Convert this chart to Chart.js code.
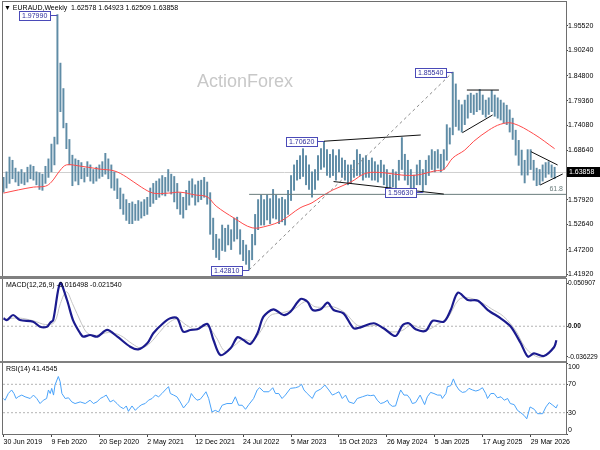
<!DOCTYPE html>
<html>
<head>
<meta charset="utf-8">
<script src="https://cdn.jsdelivr.net/npm/chart.js@4.4.1/dist/chart.umd.min.js"></script>
<style>
  html, body { margin: 0; padding: 0; background: #fff; }
  #wrap { position: relative; width: 600px; height: 450px; }
  #wrap canvas { position: absolute; left: 0; top: 0; }
</style>
</head>
<body>
<div id="wrap">
  <canvas id="rsi" width="600" height="450"></canvas>
  <canvas id="macd" width="600" height="450"></canvas>
  <canvas id="main" width="600" height="450"></canvas>
</div>
<script>
// date labels under the chart, one every 16 two-week bars
const tickLabels = ['30 Jun 2019', '9 Feb 2020', '20 Sep 2020', '2 May 2021', '12 Dec 2021', '24 Jul 2022',
  '5 Mar 2023', '15 Oct 2023', '26 May 2024', '5 Jan 2025', '17 Aug 2025', '29 Mar 2026'];
const tickStep = 16;

// EURAUD, two-week high / low
const priceHigh = [
  1.628, 1.640, 1.672, 1.665, 1.648, 1.640, 1.645, 1.638, 1.650, 1.655,
  1.652, 1.640, 1.638, 1.635, 1.652, 1.668, 1.700, 1.715, 1.9799, 1.875,
  1.820, 1.745, 1.710, 1.676, 1.668, 1.665, 1.660, 1.648, 1.662, 1.655,
  1.645, 1.650, 1.655, 1.662, 1.680, 1.668, 1.655, 1.640, 1.625, 1.605,
  1.592, 1.580, 1.572, 1.575, 1.570, 1.578, 1.575, 1.580, 1.585, 1.605,
  1.615, 1.620, 1.625, 1.632, 1.628, 1.645, 1.635, 1.630, 1.615, 1.595,
  1.585, 1.600, 1.620, 1.625, 1.612, 1.620, 1.622, 1.628, 1.618, 1.595,
  1.540, 1.505, 1.495, 1.525, 1.518, 1.525, 1.515, 1.540, 1.542, 1.515,
  1.492, 1.482, 1.470, 1.505, 1.548, 1.580, 1.590, 1.580, 1.590, 1.582,
  1.602, 1.590, 1.582, 1.585, 1.580, 1.600, 1.632, 1.655, 1.665, 1.675,
  1.690, 1.675, 1.655, 1.640, 1.645, 1.675, 1.690, 1.7062, 1.688, 1.678,
  1.688, 1.675, 1.688, 1.670, 1.665, 1.655, 1.655, 1.665, 1.688, 1.678,
  1.670, 1.675, 1.665, 1.670, 1.662, 1.655, 1.665, 1.655, 1.645, 1.633,
  1.645, 1.640, 1.665, 1.714, 1.678, 1.665, 1.645, 1.633, 1.655, 1.665,
  1.645, 1.665, 1.675, 1.688, 1.684, 1.688, 1.678, 1.688, 1.742, 1.735,
  1.8554, 1.830, 1.795, 1.785, 1.795, 1.806, 1.810, 1.806, 1.810, 1.818,
  1.806, 1.795, 1.800, 1.816, 1.806, 1.800, 1.795, 1.789, 1.784, 1.774,
  1.756, 1.730, 1.708, 1.687, 1.665, 1.688, 1.688, 1.665, 1.648, 1.645,
  1.655, 1.660, 1.662, 1.655, 1.650
];
const priceLow = [
  1.596, 1.605, 1.615, 1.625, 1.618, 1.610, 1.615, 1.612, 1.618, 1.625,
  1.622, 1.612, 1.602, 1.600, 1.615, 1.628, 1.640, 1.655, 1.700, 1.770,
  1.735, 1.690, 1.655, 1.610, 1.620, 1.612, 1.625, 1.618, 1.630, 1.620,
  1.615, 1.620, 1.626, 1.630, 1.635, 1.625, 1.605, 1.600, 1.582, 1.560,
  1.548, 1.535, 1.528, 1.528, 1.535, 1.535, 1.540, 1.545, 1.548, 1.565,
  1.572, 1.580, 1.585, 1.590, 1.588, 1.598, 1.592, 1.575, 1.560, 1.548,
  1.540, 1.558, 1.568, 1.585, 1.568, 1.575, 1.580, 1.585, 1.570, 1.505,
  1.472, 1.455, 1.450, 1.470, 1.468, 1.482, 1.472, 1.490, 1.495, 1.462,
  1.448, 1.440, 1.4281, 1.450, 1.482, 1.515, 1.525, 1.525, 1.536, 1.528,
  1.540, 1.538, 1.528, 1.532, 1.525, 1.548, 1.578, 1.600, 1.622, 1.625,
  1.630, 1.612, 1.602, 1.585, 1.602, 1.622, 1.645, 1.650, 1.632, 1.628,
  1.632, 1.622, 1.640, 1.628, 1.622, 1.612, 1.615, 1.628, 1.632, 1.632,
  1.622, 1.628, 1.628, 1.622, 1.622, 1.618, 1.628, 1.612, 1.605, 1.600,
  1.608, 1.605, 1.622, 1.645, 1.622, 1.612, 1.605, 1.597, 1.612, 1.612,
  1.5963, 1.612, 1.632, 1.645, 1.640, 1.648, 1.640, 1.645, 1.665, 1.700,
  1.720, 1.738, 1.730, 1.726, 1.742, 1.756, 1.768, 1.764, 1.770, 1.774,
  1.764, 1.758, 1.764, 1.770, 1.760, 1.756, 1.752, 1.745, 1.742, 1.726,
  1.710, 1.676, 1.654, 1.633, 1.616, 1.633, 1.645, 1.622, 1.610, 1.612,
  1.620, 1.628, 1.635, 1.628, 1.625
];
const lastClose = 1.63858;
const priceTicks = [1.95520, 1.90240, 1.84800, 1.79360, 1.74080, 1.68640, 1.57920, 1.52640, 1.47200, 1.41920];

// red moving average, read at a few bars
const maIndex = [0, 5, 10, 14, 16, 19, 21, 25, 32, 37, 41, 46, 50, 55, 59, 64, 68, 71, 77, 83, 88, 93, 99,
  103, 106, 110, 116, 121, 127, 133, 138, 144, 147, 150, 154, 157, 162, 166, 170, 177, 184];
const maValue = [1.594, 1.601, 1.607, 1.609, 1.618, 1.644, 1.655, 1.653, 1.646, 1.642, 1.629, 1.607, 1.594,
  1.594, 1.596, 1.590, 1.586, 1.566, 1.540, 1.519, 1.523, 1.535, 1.562, 1.573, 1.586, 1.601, 1.618, 1.637,
  1.638, 1.633, 1.633, 1.642, 1.645, 1.670, 1.687, 1.706, 1.730, 1.743, 1.745, 1.722, 1.690];

// marked highs / lows
const peakIndex = [18, 150, 107, 140, 82];
const peakPrice = [1.97990, 1.85540, 1.70620, 1.59630, 1.42810];

// 61.8% retracement of 1.42810 -> 1.85540
const fibStart = 82;
const fibLevel = 1.5913;

// hand drawn trend lines
const trendFromIndex = [107, 110.2, 154.7, 153.2, 176.1, 179.2];
const trendFromPrice = [1.7062, 1.619, 1.8168, 1.7246, 1.6836, 1.6116];
const trendToIndex = [139.3, 147, 165.4, 163.3, 185, 186.7];
const trendToPrice = [1.7196, 1.592, 1.8168, 1.7629, 1.6548, 1.6354];

// MACD(12,26,9)
const macdIndex = [0, 1.2, 3.2, 5.5, 9.9, 12.2, 14.5, 15.6, 16.6, 18.9, 21.2, 23.2, 25.6, 26.6, 28.9, 31.3,
  34.6, 38, 42.3, 45, 48, 50, 53.3, 55.7, 58, 60, 62.4, 64.7, 68.1, 70.1, 72.4, 75.8, 78.1, 80.1, 82.4, 84.8,
  86.8, 90.1, 93.5, 95.8, 99.2, 101.5, 103.2, 105.9, 108.2, 110.2, 113.5, 116.9, 119.2, 123.6, 126.9, 130.9,
  133.3, 135.3, 137.6, 141, 143.3, 147, 149.3, 151.7, 155, 158.4, 161.7, 166, 169.4, 172.7, 175.1, 177.1,
  180.4, 183.8, 184.6];
const macdValue = [0.0093, 0.0073, 0.0132, 0.0073, 0.0053, -0.0006, -0.0006, 0.0042, 0.0073, 0.0509,
  0.0309, 0.0073, -0.0083, -0.0123, -0.0103, -0.0123, -0.0044, -0.0123, -0.0241, -0.0272,
  -0.0201, -0.0083, 0.0035, 0.0093, 0.0093, -0.0064, -0.0044, -0.0036, 0.0026, -0.0162,
  -0.0339, -0.0260, -0.0130, -0.0162, -0.0209, -0.0083, 0.0112, 0.0199, 0.0132, 0.0171,
  0.0321, 0.0289, 0.0191, 0.0199, 0.0277, 0.0191, 0.0152, -0.0024, -0.0013, 0.0035,
  -0.0024, -0.0115, 0.0015, 0.0035, -0.0036, -0.0053, 0.0065, 0.0053, 0.0191, 0.0395,
  0.0309, 0.0301, 0.0191, 0.0093, -0.0006, -0.0201, -0.0359, -0.0319, -0.0351, -0.0248, -0.0165];
const signalIndex = [0, 5, 10, 14, 17, 19, 21, 23, 26, 28, 31, 35, 39, 43, 46, 49, 52, 55, 58, 61, 64, 68,
  71, 74, 77, 80, 83, 86, 89, 93, 97, 101, 104, 107, 110, 114, 118, 121, 125, 129, 133, 136, 139, 142, 145,
  148, 152, 155, 159, 163, 167, 171, 174, 177, 180, 184.6];
const signalValue = [0.0081, 0.0097, 0.0064, 0.0020, 0.0047, 0.0269, 0.0406, 0.0269, 0.0036, -0.0080,
  -0.0108, -0.0074, -0.0108, -0.0207, -0.0257, -0.0196, -0.0074, 0.0036, 0.0086, 0.0014,
  -0.0036, -0.0002, -0.0130, -0.0296, -0.0230, -0.0152, -0.0174, -0.0052, 0.0125, 0.0158,
  0.0203, 0.0291, 0.0230, 0.0225, 0.0230, 0.0158, 0.0014, -0.0002, 0.0009, -0.0063,
  -0.0052, 0.0014, -0.0019, -0.0036, 0.0025, 0.0081, 0.0313, 0.0336, 0.0291, 0.0203,
  0.0114, -0.0052, -0.0241, -0.0340, -0.0362, -0.0215];
const macdTicks = [0.050907, 0, -0.036229];
const macdTickText = ['0.050907', '0.00', '-0.036229'];

// RSI(14)
const rsiIndex = [0, 0.5, 1.6, 2.7, 3.5, 4.2, 4.9, 6.1, 7.2, 8.9, 10, 11.1, 12.2, 13.3, 14.4, 15, 15.6, 16.1,
  16.7, 17.2, 18.3, 18.9, 19.5, 20.6, 21.7, 22.8, 23.9, 25.6, 27.3, 28.9, 30, 31.2, 32.3, 33.4, 34.3, 35.6,
  36.7, 37.9, 39, 40.1, 41, 41.7, 42.9, 44, 45.1, 46.2, 47.3, 48.4, 49.6, 50.7, 51.8, 52.9, 54, 55.1, 55.7,
  56.8, 57.9, 59, 60.1, 61.3, 61.8, 62.7, 63.5, 64.6, 65.7, 66.8, 67.6, 68.5, 69.6, 70.7, 71.8, 73, 74.6,
  76.3, 77.4, 78.5, 79.7, 80.8, 81.9, 83.5, 84.7, 85.5, 86.9, 88.6, 89.9, 90.8, 91.9, 93, 94.1, 95.8, 97.5,
  98.6, 99.5, 100.3, 101.4, 103.1, 104.2, 105.9, 107.3, 108.6, 109.8, 110.9, 112, 113.1, 114.2, 115.3, 117,
  118.1, 119.8, 121.5, 122.6, 123.7, 124.8, 125.9, 127, 128.2, 128.7, 129.8, 130.9, 132, 132.6, 133.7,
  134.8, 135.7, 136.5, 137.6, 139.1, 139.9, 140.6, 141.5, 142.6, 143.7, 144.9, 146, 146.5, 147.7, 148.2,
  149.3, 150.2, 151, 152.1, 153.2, 154.3, 155.4, 156.6, 157.7, 158.8, 159.9, 161, 161.6, 162.7, 163.8,
  164.9, 166.1, 167.2, 168.3, 169.2, 170.5, 171.6, 172.7, 173.8, 174.7, 175.8, 177.2, 178.3, 180, 181.1,
  182.2, 183.4, 184.5, 185];
const rsiValue = [50, 47.6, 57, 62, 57, 50, 52.4, 54.8, 52.4, 50, 54.8, 50, 42.9, 47.6, 50, 62, 57, 64.3,
  54.8, 69, 81, 73.8, 57, 50, 51, 45.2, 42.9, 45.2, 42.9, 47.6, 42.9, 45.2, 50, 52.4, 54.8, 45.2,
  47.6, 42.9, 38.1, 35.7, 39.5, 31.9, 39.5, 33.3, 38.1, 41.4, 42.9, 47.6, 50, 54.8, 52.4, 57, 62, 66.7, 57,
  54.8, 52.4, 45.2, 36.7, 42.9, 45.2, 57, 52.4, 47.6, 49, 54.8, 59.5, 50, 31, 33.3, 31, 40.5, 42.9,
  42.9, 52.4, 40.5, 40.5, 34.8, 41.4, 50, 62, 65.2, 59.5, 59.5, 65.2, 57, 57, 50, 54.8, 64.3, 65.2,
  66.7, 70, 62, 57, 50, 59.5, 63.3, 69, 62, 54.8, 57, 59.5, 50, 54.8, 45.2, 42.9,
  50, 52.4, 54.8, 54, 54.8, 47.6, 42.9, 44.3, 47.6, 42.9, 39, 39.5, 54.8, 62, 54.8,
  54.8, 50, 42.9, 44.3, 54.8, 47.6, 41.4, 52.4, 58.6, 57, 54.8, 54.8, 50, 57, 66.7,
  68, 77.6, 69, 62, 58.6, 59.5, 64.3, 62, 60.5, 62, 65.2, 57, 50, 57, 57,
  51, 52.4, 47.6, 50, 42.9, 41.4, 33.3, 30, 26.2, 21.4, 38.1, 34.8, 28.6, 28.6, 38.1,
  44.3, 40.5, 36.7, 41.45];
const rsiTicks = [100, 70, 30, 0];
const rsiLevels = [70, 30];

const X_MIN = -0.17, X_MAX = 187.8;
const FONT = '"Liberation Sans", Arial, sans-serif';
const AXIS_W = 34;

const pts = (xs, ys) => xs.map((x, k) => ({ x, y: ys[k] }));
const hline = (y) => [{ x: X_MIN, y }, { x: X_MAX, y }];

function xScale(show) {
  return {
    type: 'linear', min: X_MIN, max: X_MAX, offset: false, display: show,
    afterBuildTicks: s => { s.ticks = tickLabels.map((_, k) => ({ value: k * tickStep })); },
    afterFit: s => {
      if (show) s.height = 16;
      s.paddingLeft = 0; s.paddingRight = 0;
    },
    grid: { drawOnChartArea: false, drawTicks: true, tickLength: 3, color: '#444' },
    border: { display: false },
    ticks: {
      autoSkip: false, maxRotation: 0, minRotation: 0, align: 'start', padding: 1, color: '#000',
      font: { family: FONT, size: 7 }, callback: (v, k) => tickLabels[k]
    }
  };
}

function yScale(min, max, ticks, label, size = 7) {
  return {
    type: 'linear', position: 'right', min, max,
    afterBuildTicks: s => { s.ticks = ticks.map(v => ({ value: v })); },
    afterFit: s => { s.width = AXIS_W; s.paddingTop = 0; s.paddingBottom = 0; },
    grid: { drawOnChartArea: false, drawTicks: true, tickLength: 2, color: '#444' },
    border: { display: true, color: '#555' },
    ticks: {
      padding: 0, color: '#000', callback: label,
      font: ctx => ({ family: FONT, size, weight: ctx.tick && ctx.tick.value === 0 && min < 0 ? 'bold' : 'normal' })
    }
  };
}

function frame(chart) {
  const { ctx, chartArea: a } = chart;
  ctx.save();
  ctx.strokeStyle = '#6e6e6e';
  ctx.lineWidth = 1;
  ctx.strokeRect(a.left - 0.5, a.top - 0.5, a.right - a.left + 1, a.bottom - a.top + 1);
  ctx.restore();
}

function panelText(chart, text) {
  const { ctx, chartArea: a } = chart;
  ctx.save();
  ctx.font = '7px ' + FONT;
  ctx.fillStyle = '#000';
  ctx.textBaseline = 'middle';
  ctx.fillText(text, a.left + 3, a.top + 6);
  ctx.restore();
}

const baseOptions = {
  responsive: false, animation: false, events: [],
  plugins: { legend: { display: false }, tooltip: { enabled: false } }
};

// ---------- price panel ----------
const mainDecor = {
  id: 'mainDecor',
  beforeDatasetsDraw(chart) {
    const { ctx } = chart;
    ctx.save();
    ctx.font = '18px ' + FONT;
    ctx.fillStyle = '#c8c8c8';
    ctx.textBaseline = 'middle';
    ctx.fillText('ActionForex', 197, 82);
    ctx.restore();
  },
  afterDatasetsDraw(chart) {
    const { ctx, chartArea: a, scales } = chart;
    ctx.save();
    ctx.font = '7px ' + FONT;
    ctx.textBaseline = 'middle';
    ctx.lineWidth = 1;
    peakIndex.forEach((idx, k) => {
      const x = scales.x.getPixelForValue(idx);
      const y = Math.round(scales.y.getPixelForValue(peakPrice[k]));
      const text = peakPrice[k].toFixed(5);
      const w = Math.round(ctx.measureText(text).width + 6);
      const bx = Math.round(x - 7 - w);
      ctx.strokeStyle = '#4a4ab8';
      ctx.beginPath();
      ctx.moveTo(bx + w, y + 0.5);
      ctx.lineTo(x, y + 0.5);
      ctx.stroke();
      ctx.fillStyle = '#fff';
      ctx.fillRect(bx, y - 4, w, 9);
      ctx.strokeRect(bx + 0.5, y - 4 + 0.5, w, 9);
      ctx.fillStyle = '#2e2e9c';
      ctx.fillText(text, bx + 3, y + 1);
    });
    const fy = scales.y.getPixelForValue(fibLevel);
    ctx.fillStyle = '#6a7c7c';
    ctx.textAlign = 'right';
    ctx.fillText('61.8', a.right - 3, fy - 5);
    ctx.textAlign = 'left';
    ctx.fillStyle = '#000';
    ctx.fillText('\u25BC EURAUD,Weekly  1.62578 1.64923 1.62509 1.63858', 4, 8);
    ctx.restore();
  },
  afterDraw(chart) {
    frame(chart);
    const { ctx, chartArea: a, scales } = chart;
    ctx.save();
    // panel separators
    ctx.fillStyle = '#808080';
    ctx.fillRect(0, a.bottom, a.right, 3);
    ctx.fillRect(0, 361, a.right, 2);
    // last price tag on the axis
    const y = Math.round(scales.y.getPixelForValue(lastClose));
    ctx.fillStyle = '#000';
    ctx.fillRect(a.right + 1, y - 5, AXIS_W - 1, 10);
    ctx.font = '7px ' + FONT;
    ctx.fillStyle = '#fff';
    ctx.textBaseline = 'middle';
    ctx.fillText(lastClose.toFixed(5), a.right + 3, y + 0.5);
    ctx.restore();
  }
};

const trendSets = trendFromIndex.map((x0, k) => ({
  type: 'line',
  data: [{ x: x0, y: trendFromPrice[k] }, { x: trendToIndex[k], y: trendToPrice[k] }],
  borderColor: '#111', borderWidth: 1, pointRadius: 0, order: 1
}));

new Chart(document.getElementById('main'), {
  type: 'bar',
  data: {
    datasets: [
      { type: 'line', data: hline(lastClose), borderColor: '#cfcfcf', borderWidth: 1, pointRadius: 0, order: 9 },
      {
        type: 'bar', data: priceLow.map((lo, i) => ({ x: i, y: [lo, priceHigh[i]] })),
        backgroundColor: '#5f8ca6', borderWidth: 0, barThickness: 1.3, grouped: false, order: 8
      },
      {
        type: 'line', data: pts(maIndex, maValue), borderColor: '#ff4a4a', borderWidth: 1,
        pointRadius: 0, tension: 0.35, order: 7
      },
      {
        type: 'line', data: [{ x: fibStart, y: fibLevel }, { x: X_MAX, y: fibLevel }],
        borderColor: '#6a7c7c', borderWidth: 1, pointRadius: 0, order: 6
      },
      {
        type: 'line', data: [{ x: peakIndex[4], y: peakPrice[4] }, { x: peakIndex[1], y: peakPrice[1] }],
        borderColor: '#8a8a8a', borderWidth: 1, borderDash: [3, 3], pointRadius: 0, order: 5
      },
      ...trendSets
    ]
  },
  options: Object.assign({}, baseOptions, {
    layout: { padding: { left: 3, top: 2, right: 0, bottom: 174 } },
    scales: { x: xScale(false), y: yScale(1.41488, 2.00706, priceTicks, v => v.toFixed(5)) }
  }),
  plugins: [mainDecor]
});

// ---------- MACD panel ----------
new Chart(document.getElementById('macd'), {
  type: 'line',
  data: {
    datasets: [
      { data: hline(0), borderColor: '#b4b4b4', borderWidth: 1, borderDash: [2, 2], pointRadius: 0, order: 3 },
      { data: pts(signalIndex, signalValue), borderColor: '#c4c4c4', borderWidth: 1, pointRadius: 0, tension: 0.35, order: 2 },
      { data: pts(macdIndex, macdValue), borderColor: '#1b1b8e', borderWidth: 2.2, pointRadius: 0, tension: 0.3, order: 1 }
    ]
  },
  options: Object.assign({}, baseOptions, {
    layout: { padding: { left: 3, top: 279, right: 0, bottom: 89 } },
    scales: { x: xScale(false), y: yScale(-0.04094, 0.05562, macdTicks, (v, k) => macdTickText[k], 6.6) }
  }),
  plugins: [{
    id: 'macdDecor',
    afterDraw(chart) {
      frame(chart);
      panelText(chart, 'MACD(12,26,9) -0.016498 -0.021540');
    }
  }]
});

// ---------- RSI panel ----------
new Chart(document.getElementById('rsi'), {
  type: 'line',
  data: {
    datasets: [
      ...rsiLevels.map(v => ({ data: hline(v), borderColor: '#b4b4b4', borderWidth: 1, borderDash: [2, 2], pointRadius: 0, order: 3 })),
      { data: pts(rsiIndex, rsiValue), borderColor: '#4aa3fa', borderWidth: 1, pointRadius: 0, tension: 0, order: 1 }
    ]
  },
  options: Object.assign({}, baseOptions, {
    layout: { padding: { left: 3, top: 363, right: 0, bottom: 0 } },
    scales: {
      x: xScale(true),
      y: yScale(0, 100, rsiTicks, v => (v === 100 ? ['', '100'] : v === 0 ? ['0', ''] : String(v)))
    }
  }),
  plugins: [{
    id: 'rsiDecor',
    afterDraw(chart) {
      frame(chart);
      panelText(chart, 'RSI(14) 41.4545');
    }
  }]
});
</script>
</body>
</html>
